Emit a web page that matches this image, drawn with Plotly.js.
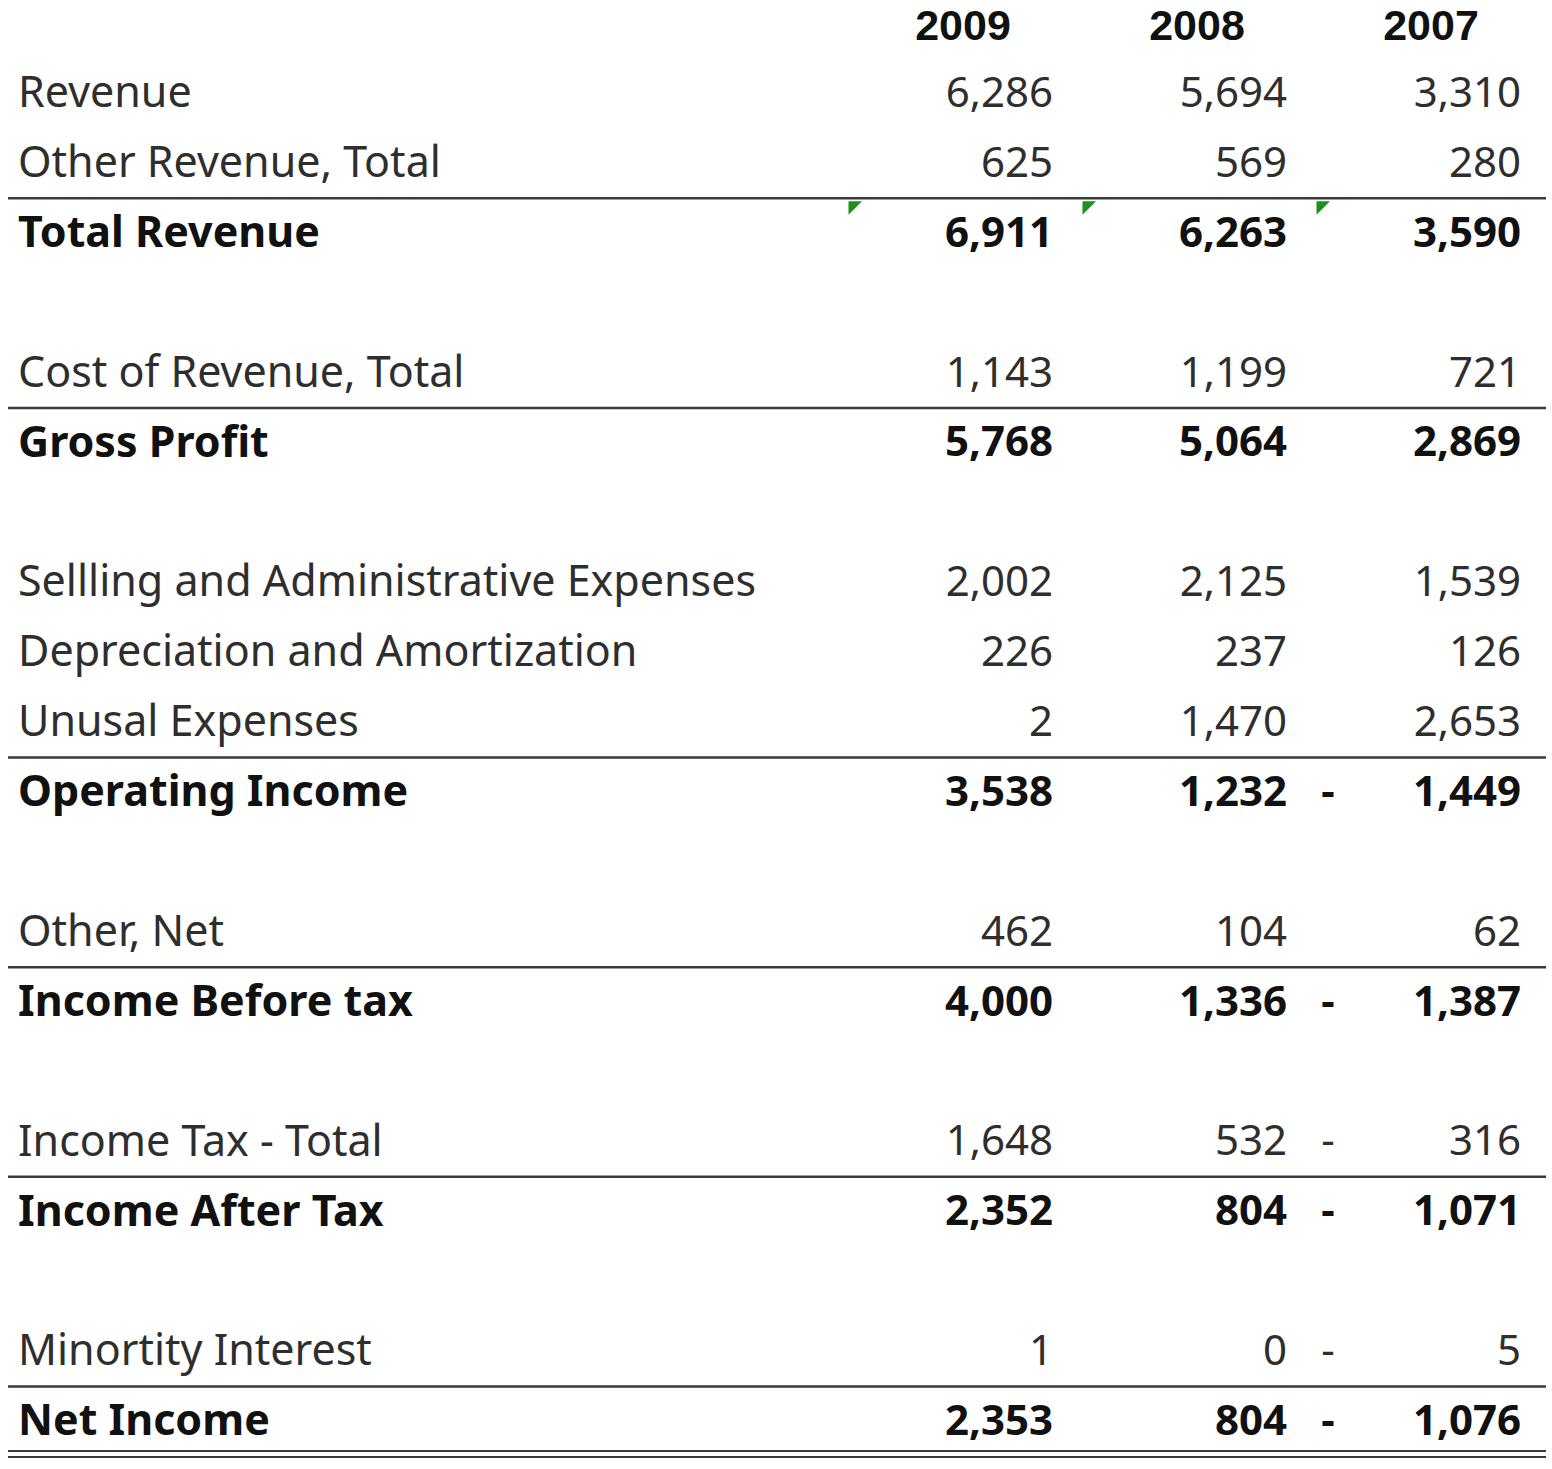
<!DOCTYPE html>
<html>
<head>
<meta charset="utf-8">
<script src="https://cdn.plot.ly/plotly-3.0.1.min.js"></script>
<style>html,body{margin:0;padding:0;background:#fff;}#chart{width:1552px;height:1469px;}</style>
</head>
<body>
<div id="chart"></div>
<script>
// ---------- DATA ----------
const years = ['2009', '2008', '2007'];
const rowLabels = [
  'Revenue', 'Other Revenue, Total', 'Total Revenue', '',
  'Cost of Revenue, Total', 'Gross Profit', '',
  'Sellling and Administrative Expenses', 'Depreciation and Amortization', 'Unusal Expenses', 'Operating Income', '',
  'Other, Net', 'Income Before tax', '',
  'Income Tax - Total', 'Income After Tax', '',
  'Minortity Interest', 'Net Income'
];
const values2009 = [6286, 625, 6911, null, 1143, 5768, null, 2002, 226, 2, 3538, null, 462, 4000, null, 1648, 2352, null, 1, 2353];
const values2008 = [5694, 569, 6263, null, 1199, 5064, null, 2125, 237, 1470, 1232, null, 104, 1336, null, 532, 804, null, 0, 804];
const values2007 = [3310, 280, 3590, null, 721, 2869, null, 1539, 126, 2653, -1449, null, 62, -1387, null, -316, -1071, null, -5, -1076];
const totalRows = ['Total Revenue', 'Gross Profit', 'Operating Income', 'Income Before tax', 'Income After Tax', 'Net Income'];
const flaggedRows = ['Total Revenue'];

// ---------- LAYOUT CONSTANTS ----------
const W = 1552, H = 1469;
const ROW0 = 26.5, ROW_H = 69.9;
const HEADER_Y = 29.3;
const LINE_ROW0 = 23;
const LABEL_X = 18;
const COL_W = 234;
const COL_LEFT0 = 846;
const RIGHT_PAD = 27;
const DASH_PAD = 14;
const LINE_X0 = 8, LINE_X1 = 1546;
const FONT = 'Noto Sans, Open Sans, sans-serif';
const HEADER_FONT = 'Liberation Sans, Arial, sans-serif';
const FS = 42, FS_LABEL = 43, FS_HEADER = 43;
const REG_COLOR = '#2e2e2e', BOLD_COLOR = '#111111';

const seriesByYear = [values2009, values2008, values2007];
const rowY = i => ROW0 + ROW_H * (i + 1);
const lineRowY = i => LINE_ROW0 + ROW_H * (i + 1);
const colLeft = c => COL_LEFT0 + COL_W * c;
const colRight = c => colLeft(c) + COL_W - RIGHT_PAD;
const colCenter = c => colLeft(c) + COL_W / 2;
const fmt = v => Math.abs(v).toLocaleString('en-US');
const isBold = i => totalRows.includes(rowLabels[i]);

const traces = [];
function textTrace(xs, ys, txt, pos, bold, size, family) {
  return {
    type: 'scatter', mode: 'text', x: xs, y: ys, text: txt, textposition: pos,
    textfont: {family: family || FONT, size: size || FS, color: bold ? BOLD_COLOR : REG_COLOR, weight: bold ? 700 : 400},
    hoverinfo: 'skip', showlegend: false, cliponaxis: false
  };
}

// header
traces.push(textTrace(years.map((_, c) => colCenter(c)), years.map(() => HEADER_Y), years, 'middle center', true, FS_HEADER, HEADER_FONT));

// labels
[false, true].forEach(bold => {
  const idx = rowLabels.map((l, i) => i).filter(i => rowLabels[i] !== '' && isBold(i) === bold);
  traces.push(textTrace(idx.map(() => LABEL_X), idx.map(rowY), idx.map(i => rowLabels[i]), 'middle right', bold, FS_LABEL));
});

// values + negative dashes
seriesByYear.forEach((vals, c) => {
  [false, true].forEach(bold => {
    const idx = vals.map((v, i) => i).filter(i => vals[i] !== null && isBold(i) === bold);
    traces.push(textTrace(idx.map(() => colRight(c)), idx.map(rowY), idx.map(i => fmt(vals[i])), 'middle left', bold));
    const neg = idx.filter(i => vals[i] < 0);
    if (neg.length) traces.push(textTrace(neg.map(() => colLeft(c) + DASH_PAD), neg.map(rowY), neg.map(() => '-'), 'middle center', bold));
  });
});

// green error-indicator triangles
const flagIdx = rowLabels.map((l, i) => i).filter(i => flaggedRows.includes(rowLabels[i]));
const fx = [], fy = [];
flagIdx.forEach(i => years.forEach((_, c) => { fx.push(colLeft(c) + 7); fy.push(lineRowY(i) - ROW_H / 2 + 8); }));
traces.push({
  type: 'scatter', mode: 'markers', x: fx, y: fy,
  marker: {symbol: 'triangle-nw', size: 15, color: '#1f8f1f', line: {width: 0}},
  hoverinfo: 'skip', showlegend: false, cliponaxis: false
});

// border lines (above each total row, double line under the last)
const shapes = [];
rowLabels.forEach((l, i) => {
  if (isBold(i)) {
    const y = lineRowY(i) - ROW_H / 2 + 0.5;
    shapes.push({type: 'line', xref: 'x', yref: 'y', x0: LINE_X0, x1: LINE_X1, y0: y, y1: y, line: {color: '#3a3a3a', width: 2.5}});
  }
});
const last = rowLabels.length - 1;
[30, 36].forEach(off => {
  const y = lineRowY(last) + off;
  shapes.push({type: 'line', xref: 'x', yref: 'y', x0: LINE_X0, x1: LINE_X1, y0: y, y1: y, line: {color: '#3a3a3a', width: 2}});
});

const layout = {
  width: W, height: H,
  margin: {l: 0, r: 0, t: 0, b: 0, pad: 0},
  paper_bgcolor: '#fff', plot_bgcolor: '#fff',
  xaxis: {range: [0, W], visible: false, fixedrange: true},
  yaxis: {range: [H, 0], visible: false, fixedrange: true},
  shapes: shapes,
  showlegend: false,
  hovermode: false
};
Plotly.newPlot('chart', traces, layout, {staticPlot: true, displayModeBar: false});
</script>
</body>
</html>
